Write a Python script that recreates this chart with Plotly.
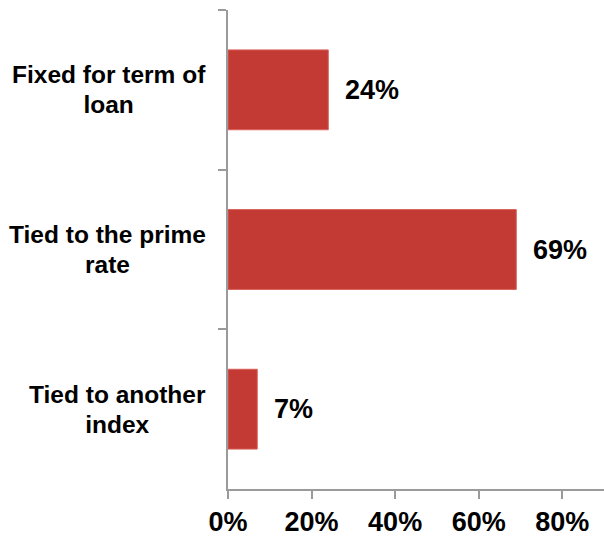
import plotly.graph_objects as go

categories = ["Fixed for term of<br>loan", "Tied to the prime<br>rate", "Tied to another<br>index"]
values = [0.24, 0.69, 0.07]
x_ticks = [0, 0.2, 0.4, 0.6, 0.8]
x_tick_labels = ["0%", "20%", "40%", "60%", "80%"]

FONT = "Liberation Sans, Arial, sans-serif"
BAR = "#C23A33"
AXIS = "#9A9A9A"

fig = go.Figure()
fig.add_trace(go.Bar(
    y=categories, x=values, orientation="h",
    marker=dict(color=BAR, line=dict(color="#D9605A", width=1)),
    width=0.5, hoverinfo="skip",
))

annotations = []
for c, v in zip(categories, values):
    annotations.append(dict(
        x=v, y=c, xref="x", yref="y", text=f"{round(v*100)}%",
        showarrow=False, xanchor="left", yanchor="middle", xshift=15,
        font=dict(family=FONT, size=27, color="black", weight="bold"),
    ))
    # line spacing follows the base size (22.7px -> ~29.5px), glyphs drawn at 24.5px
    label = "<br>".join(f"<span style='font-size:24.5px'>{ln}</span>" for ln in c.split("<br>"))
    annotations.append(dict(
        x=0, y=c, xref="paper", yref="y", text=label, align="center",
        showarrow=False, xanchor="right", yanchor="middle", xshift=-20,
        font=dict(family=FONT, size=22.7, color="black", weight="bold"),
    ))

fig.update_layout(
    width=604, height=537,
    margin=dict(l=228, r=0, t=10, b=48),
    paper_bgcolor="white", plot_bgcolor="white",
    showlegend=False,
    annotations=annotations,
    xaxis=dict(
        range=[0, 0.9], tickvals=x_ticks, ticktext=x_tick_labels,
        showline=True, linecolor=AXIS, linewidth=1.5,
        ticks="outside", ticklen=8, tickcolor=AXIS, tickwidth=1.5,
        showgrid=False, zeroline=False,
        tickfont=dict(family=FONT, size=27, color="black", weight="bold"),
    ),
    yaxis=dict(
        type="category", autorange="reversed", tickson="boundaries",
        showline=True, linecolor=AXIS, linewidth=1.5,
        ticks="outside", ticklen=8, tickcolor=AXIS, tickwidth=1.5,
        showticklabels=False, showgrid=False, zeroline=False,
    ),
)

fig.write_html("out.html")
